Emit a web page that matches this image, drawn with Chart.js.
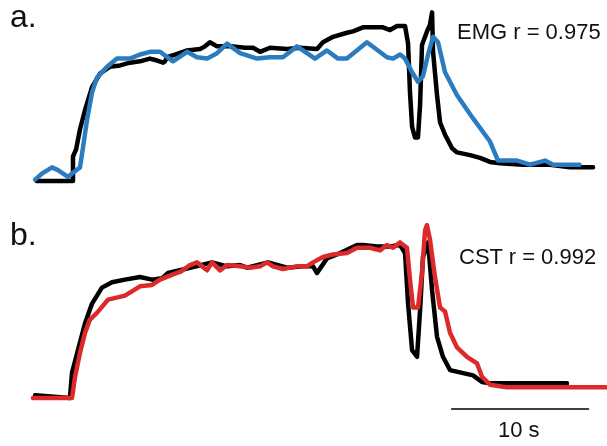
<!DOCTYPE html>
<html>
<head>
<meta charset="utf-8">
<script src="https://cdn.jsdelivr.net/npm/chart.js@4"></script>
<style>
  body { margin: 0; background: #fff; }
  #wrap { position: relative; width: 607px; height: 446px; overflow: hidden; background: #fff; }
  #wrap canvas { position: absolute; left: 0; }
  .lbl { position: absolute; font-family: "Liberation Sans", Arial, sans-serif; line-height: 1; color: #111; white-space: nowrap; }
  .big { font-size: 32px; }
  .mid { font-size: 22px; }
</style>
</head>
<body>
<div id="wrap">
  <canvas id="chartA" width="607" height="200" style="top:0"></canvas>
  <canvas id="chartB" width="607" height="246" style="top:200px"></canvas>
  <div class="lbl big" style="left:10px; top:0px">a.</div>
  <div class="lbl big" style="left:10px; top:218px">b.</div>
  <div class="lbl mid" style="left:457px; top:21px">EMG r = 0.975</div>
  <div class="lbl mid" style="left:459px; top:246px">CST r = 0.992</div>
  <div class="lbl mid" style="left:498px; top:419px">10 s</div>
</div>
<script>
// time in seconds, force normalised to the plateau (0 = rest)
const forceA = [
  [0.16,0],[2.79,0],[2.79,0.18],[3.01,0.23],[3.30,0.38],[3.66,0.52],[4.17,0.69],[4.75,0.79],
  [5.47,0.84],[6.20,0.85],[6.92,0.87],[7.65,0.88],[8.37,0.90],[8.74,0.89],[9.32,0.87],[9.46,0.88],
  [9.61,0.91],[10.19,0.93],[11.06,0.96],[12.00,0.97],[12.36,0.99],[12.72,1.02],[13.23,0.99],
  [14.39,0.99],[15.26,0.98],[15.84,0.98],[16.35,0.95],[17.07,0.98],[18.31,0.97],[19.25,0.98],
  [20.48,0.97],[20.91,1.02],[21.64,1.06],[22.65,1.09],[23.09,1.10],[23.81,1.13],[25.26,1.13],
  [25.77,1.11],[26.28,1.14],[26.86,1.14],[27.08,1.01],[27.22,0.65],[27.37,0.40],[27.58,0.32],
  [27.80,0.32],[27.95,0.56],[28.09,1.00],[28.45,1.10],[28.67,1.15],[28.82,1.24],[28.89,0.95],
  [29.18,0.63],[29.40,0.43],[29.76,0.34],[30.27,0.24],[30.63,0.21],[31.57,0.19],[32.30,0.17],
  [33.02,0.14],[33.75,0.13],[35.41,0.12],[37.37,0.12],[38.82,0.10],[40.27,0.10],[40.49,0.10]
]
const emgA = [
  [0.04,0.01],[0.62,0.06],[1.27,0.10],[1.70,0.08],[2.43,0.03],[2.79,0.06],[3.30,0.10],[3.52,0.25],
  [3.81,0.45],[4.17,0.65],[4.53,0.76],[5.26,0.84],[5.98,0.90],[6.92,0.90],[7.65,0.93],[8.37,0.95],
  [9.10,0.95],[10.04,0.88],[11.06,0.95],[11.78,0.91],[12.51,0.90],[13.23,0.94],[13.96,1.01],
  [14.90,0.94],[16.13,0.90],[17.07,0.91],[18.01,0.91],[19.03,0.99],[19.46,0.96],[20.33,0.90],
  [21.20,0.96],[22.00,0.90],[22.65,0.90],[24.10,1.02],[25.55,0.91],[25.99,0.90],[26.50,0.93],
  [26.86,0.90],[27.37,0.80],[27.80,0.73],[28.16,0.77],[28.53,0.93],[28.89,1.06],[29.25,1.02],
  [29.76,0.80],[30.63,0.63],[31.79,0.46],[33.02,0.29],[33.60,0.15],[34.98,0.15],[35.92,0.12],
  [37.01,0.15],[37.59,0.12],[39.51,0.12]
]
const forceB = [
  [0.04,0.02],[2.57,0],[2.72,0.19],[3.15,0.36],[3.66,0.56],[4.17,0.71],[4.89,0.83],[5.62,0.87],
  [6.56,0.89],[7.65,0.91],[8.52,0.89],[9.24,0.90],[9.68,0.94],[10.91,0.97],[12.87,1.02],
  [13.96,0.99],[14.90,1.00],[15.41,0.98],[16.93,1.02],[18.31,0.98],[19.46,0.99],[20.19,0.99],
  [20.48,0.94],[21.20,1.05],[22.15,1.09],[23.38,1.15],[23.81,1.15],[24.83,1.14],[25.77,1.14],
  [26.50,1.15],[26.86,1.09],[27.08,0.71],[27.37,0.36],[27.73,0.31],[27.95,0.66],[28.16,1.06],
  [28.53,1.17],[28.82,0.81],[29.18,0.46],[29.61,0.31],[30.12,0.21],[31.79,0.17],[32.44,0.12],
  [33.02,0.11],[35.41,0.11],[38.60,0.11]
]
const cstB = [
  [-0.11,0],[2.72,0],[2.94,0.16],[3.30,0.34],[3.66,0.49],[4.02,0.59],[4.53,0.64],[5.33,0.74],
  [6.56,0.77],[7.65,0.84],[8.52,0.85],[9.10,0.89],[10.04,0.93],[10.60,0.95],[11.27,1.00],
  [11.78,1.02],[12.51,0.96],[12.87,1.02],[13.45,0.96],[13.96,1.00],[14.90,0.99],[15.62,0.98],
  [16.35,0.99],[16.86,1.02],[17.29,0.99],[18.01,0.97],[19.03,0.99],[19.75,0.99],[20.19,1.02],
  [20.91,1.06],[21.64,1.08],[22.65,1.09],[23.38,1.13],[24.32,1.13],[25.05,1.11],[25.55,1.15],
  [25.99,1.13],[26.50,1.17],[27.00,1.13],[27.22,0.89],[27.44,0.68],[27.80,0.68],[28.09,0.94],
  [28.31,1.26],[28.45,1.30],[28.67,1.19],[29.03,0.91],[29.40,0.68],[29.76,0.65],[30.12,0.49],
  [30.63,0.38],[31.35,0.31],[32.08,0.26],[32.44,0.16],[33.02,0.10],[34.25,0.08],[40.27,0.08],
  [41.50,0.08]
]
const scaleBarTime = [30.2, 40.2]   // 10 s
const scaleBarLevel = -0.083

const toXY = arr => arr.map(p => ({ x: p[0], y: p[1] }))

const xRange = { min: -2.5, max: 41.5 }

const makeChart = (id, datasets, yMin, yMax) => {
  const ctx = document.getElementById(id).getContext('2d')
  return new Chart(ctx, {
    type: 'line',
    data: { datasets: datasets },
    options: {
      responsive: false,
      animation: false,
      layout: { padding: 0 },
      elements: {
        point: { radius: 0 },
        line: { tension: 0, borderJoinStyle: 'round', borderCapStyle: 'round' },
      },
      plugins: { legend: { display: false }, tooltip: { enabled: false } },
      scales: {
        x: { type: 'linear', display: false, min: xRange.min, max: xRange.max },
        y: { type: 'linear', display: false, min: yMin, max: yMax },
      },
    },
  })
}

// first dataset ends up drawn on top
makeChart('chartA', [
  { data: toXY(emgA), borderColor: '#2b7bc1', borderWidth: 4.5, fill: false },
  { data: toXY(forceA), borderColor: '#000', borderWidth: 4.5, fill: false },
], -0.14, 1.331)

makeChart('chartB', [
  { data: toXY(cstB), borderColor: '#dc2a2a', borderWidth: 4.5, fill: false },
  { data: toXY(forceB), borderColor: '#000', borderWidth: 4.5, fill: false },
  {
    data: scaleBarTime.map(t => ({ x: t, y: scaleBarLevel })),
    borderColor: '#000', borderWidth: 1.5, borderCapStyle: 'butt', fill: false,
  },
], -0.361, 1.489)
</script>
</body>
</html>
